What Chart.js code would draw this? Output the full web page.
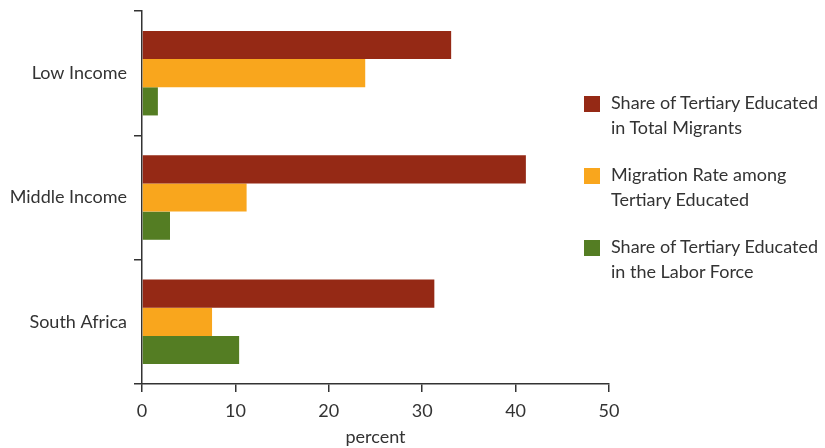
<!DOCTYPE html>
<html>
<head>
<meta charset="utf-8">
<script src="https://cdn.jsdelivr.net/npm/chart.js@4"></script>
<style>
    html, body { margin: 0; padding: 0; background: #fff; }
    #wrap { position: relative; width: 825px; height: 448px; }
    #legend { position: absolute; left: 584px; top: 90px; font-family: Lato, sans-serif; font-size: 18px; color: #333; }
    .item { position: relative; padding-left: 27px; line-height: 25px; height: 50px; margin-bottom: 22px; }
    .box { position: absolute; left: 0; top: 6px; width: 16px; height: 16px; }
</style>
</head>
<body>
<div id="wrap">
    <canvas id="chart" width="825" height="448"></canvas>
    <div id="legend"></div>
</div>
<script>
// 数据
var categories = ["Low Income", "Middle Income", "South Africa"];
var seriesNames = [
    ["Share of Tertiary Educated", "in Total Migrants"],
    ["Migration Rate among", "Tertiary Educated"],
    ["Share of Tertiary Educated", "in the Labor Force"]
];
var shareMigrants = [33.1, 41.1, 31.3];
var migrationRate = [23.9, 11.2, 7.5];
var shareLabor = [1.7, 3.0, 10.4];
var xTicks = [0, 10, 20, 30, 40, 50];
var colors = ["#952915", "#F9A61D", "#547D23"];

var axisColor = "#333";
var font = { family: "Lato, sans-serif", size: 18 };

var values = [shareMigrants, migrationRate, shareLabor];
var datasets = values.map(function (v, i) {
    return {
        label: seriesNames[i].join(" "),
        data: v,
        backgroundColor: colors[i],
        borderWidth: 0,
        categoryPercentage: 0.68,
        barPercentage: 1.0
    };
});

new Chart(document.getElementById("chart").getContext("2d"), {
    type: "bar",
    data: { labels: categories, datasets: datasets },
    options: {
        indexAxis: "y",
        responsive: false,
        animation: false,
        layout: { padding: { top: 11, right: 216, left: 0, bottom: 0 } },
        plugins: { legend: { display: false }, tooltip: { enabled: false } },
        scales: {
            x: {
                min: 0,
                max: 50,
                afterBuildTicks: function (scale) {
                    scale.ticks = xTicks.map(function (t) { return { value: t }; });
                },
                afterFit: function (scale) { scale.height = 64; },
                grid: { drawOnChartArea: false, tickLength: 8, color: axisColor, lineWidth: 1.5 },
                border: { color: axisColor, width: 1.5 },
                ticks: { color: axisColor, font: font, padding: 8 },
                title: { display: true, text: "percent", color: axisColor, font: font, padding: 0 }
            },
            y: {
                afterFit: function (scale) {
                    scale.width = 142;
                    scale.paddingTop = 0;
                    scale.paddingBottom = 0;
                },
                grid: { drawOnChartArea: false, offset: true, tickLength: 8, color: axisColor, lineWidth: 1.5 },
                border: { color: axisColor, width: 1.5 },
                ticks: { color: axisColor, font: font, padding: 7 }
            }
        }
    }
});

// 图例
var legend = document.getElementById("legend");
seriesNames.forEach(function (lines, i) {
    var item = document.createElement("div");
    item.className = "item";
    item.innerHTML = '<span class="box" style="background:' + colors[i] + '"></span>' + lines.join("<br>");
    legend.appendChild(item);
});
</script>
</body>
</html>
